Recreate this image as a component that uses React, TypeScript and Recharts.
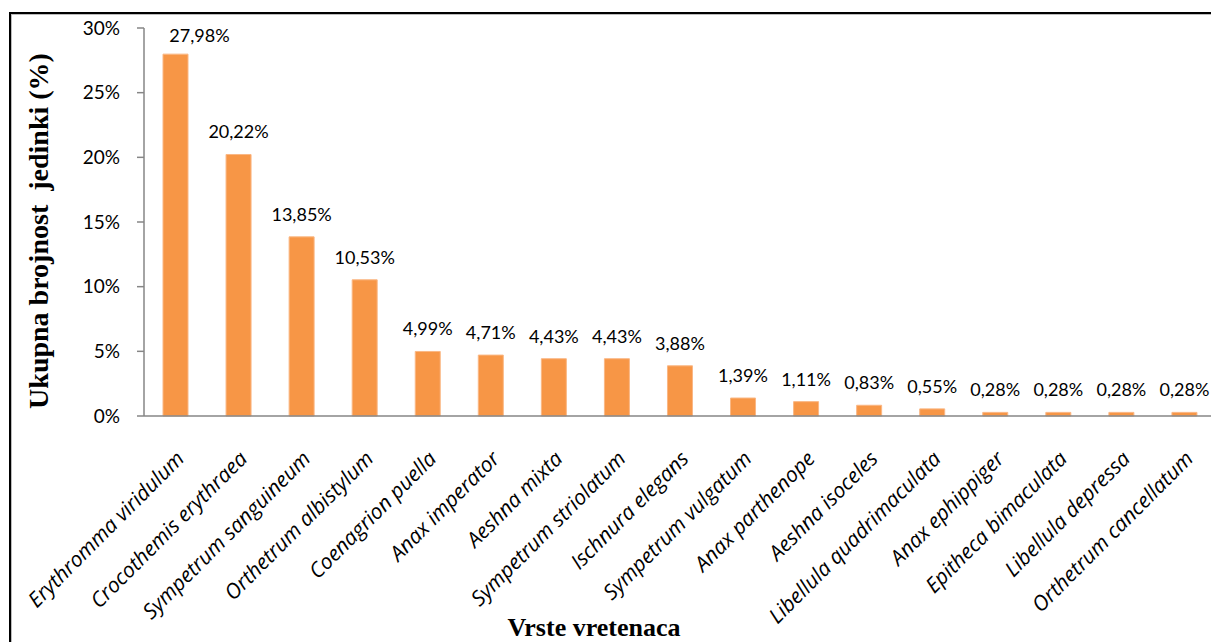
import React from 'react';
import { BarChart, Bar, XAxis, YAxis, LabelList, Label } from 'recharts';

const species = [
  'Erythromma viridulum',
  'Crocothemis erythraea',
  'Sympetrum sanguineum',
  'Orthetrum albistylum',
  'Coenagrion puella',
  'Anax imperator',
  'Aeshna mixta',
  'Sympetrum striolatum',
  'Ischnura elegans',
  'Sympetrum vulgatum',
  'Anax parthenope',
  'Aeshna isoceles',
  'Libellula quadrimaculata',
  'Anax ephippiger',
  'Epitheca bimaculata',
  'Libellula depressa',
  'Orthetrum cancellatum',
];
const shares = [27.98, 20.22, 13.85, 10.53, 4.99, 4.71, 4.43, 4.43, 3.88, 1.39, 1.11, 0.83, 0.55, 0.28, 0.28, 0.28, 0.28];
const yTicks = [0, 5, 10, 15, 20, 25, 30];
const yTitle = 'Ukupna brojnost  jedinki (%)';
const xTitle = 'Vrste vretenaca';

const data = species.map((name, i) => ({ name, value: shares[i] }));

const fmtPct = (v: any) => Number(v).toFixed(2).replace('.', ',') + '%';

const CategoryTick = (props: any) => {
  const { x, y, payload } = props;
  const ax = x + 10;
  const ay = y + 44;
  return (
    <text
      x={ax}
      y={ay}
      transform={`rotate(-45 ${ax} ${ay})`}
      textAnchor="end"
      fontFamily="'Open Sans'"
      fontStyle="italic"
      fontSize={21}
      fill="#000"
    >
      {payload.value}
    </text>
  );
};

// Labels that would run above the plot area are nudged down and to the right, as in the source.
const ValueLabel = (props: any) => {
  const { x, y, width, value } = props;
  const natural = y - 16;
  const clamped = natural < 42;
  const cx = x + width / 2 + (clamped ? 24 : 0);
  const by = clamped ? 42 : natural;
  return (
    <text x={cx} y={by} textAnchor="middle" fontFamily="Lato" fontSize={18} fill="#000">
      {fmtPct(value)}
    </text>
  );
};

export default function App() {
  return (
    <div
      style={{
        position: 'absolute',
        left: 0,
        top: 0,
        width: 1211,
        height: 642,
        overflow: 'hidden',
        background: '#fff',
      }}
    >
      <div
        style={{
          position: 'absolute',
          left: 9,
          top: 12,
          width: 1400,
          height: 800,
          borderTop: '2px solid #000',
          borderLeft: '2px solid #000',
          boxShadow: 'inset 1px 1px 0 #bbb',
        }}
      />
      <div style={{ position: 'absolute', left: 0, top: 0 }}>
        <BarChart
          width={1216}
          height={642}
          data={data}
          margin={{ top: 28, right: 0, bottom: 196, left: 0 }}
        >
          <XAxis
            dataKey="name"
            interval={0}
            height={30}
            tickSize={0}
            tickMargin={0}
            tickLine={false}
            axisLine={{ stroke: '#868686', strokeWidth: 1.5 }}
            tick={<CategoryTick />}
          >
            <Label
              content={() => (
                <text
                  x={594}
                  y={636}
                  textAnchor="middle"
                  fontFamily="'Liberation Serif', 'Times New Roman', serif"
                  fontWeight="bold"
                  fontSize={26}
                  fill="#000"
                >
                  {xTitle}
                </text>
              )}
            />
          </XAxis>
          <YAxis
            width={144}
            domain={[0, 30]}
            ticks={yTicks}
            interval={0}
            tickSize={7}
            tickMargin={17}
            tickFormatter={(v: number) => `${v}%`}
            axisLine={{ stroke: '#868686', strokeWidth: 1.5 }}
            tickLine={{ stroke: '#868686', strokeWidth: 1.5 }}
            tick={{ fontFamily: 'Lato', fontSize: 19, fill: '#000' }}
          >
            <Label
              content={() => (
                <text
                  x={48}
                  y={231}
                  transform="rotate(-90 48 231)"
                  textAnchor="middle"
                  fontFamily="'Liberation Serif', 'Times New Roman', serif"
                  fontWeight="bold"
                  fontSize={28}
                  fill="#000"
                  style={{ whiteSpace: 'pre' }}
                >
                  {yTitle}
                </text>
              )}
            />
          </YAxis>
          <Bar
            dataKey="value"
            fill="#F79646"
            stroke="#FAB784"
            strokeWidth={1}
            barSize={25}
            isAnimationActive={false}
          >
            <LabelList dataKey="value" content={<ValueLabel />} />
          </Bar>
        </BarChart>
      </div>
    </div>
  );
}
